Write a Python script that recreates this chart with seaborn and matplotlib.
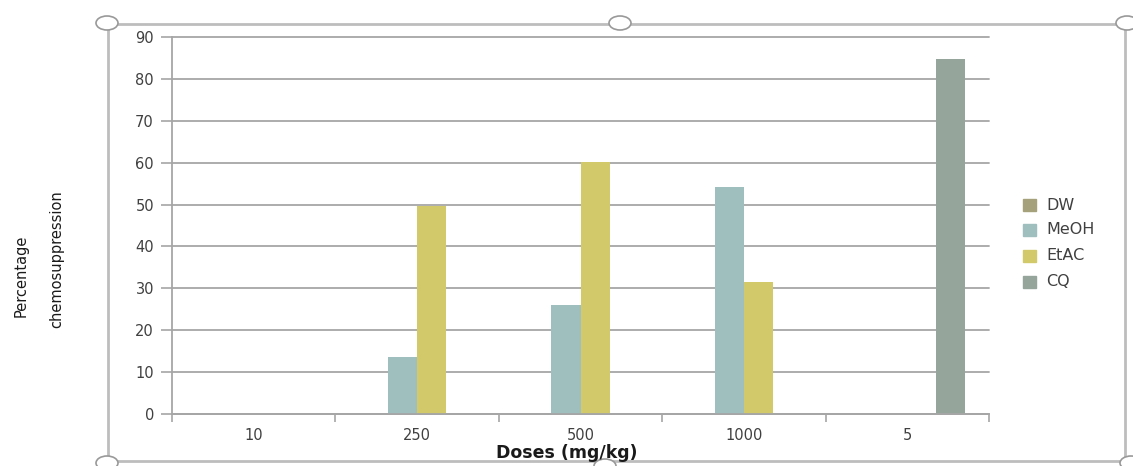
import matplotlib
matplotlib.use("Agg")
import matplotlib.pyplot as plt
from matplotlib.patches import Rectangle, Ellipse
import seaborn as sns
import pandas as pd

# Chemosuppression (%) by dose and extract
doses = ["10", "250", "500", "1000", "5"]
series = ["DW", "MeOH", "EtAC", "CQ"]
dw_vals = [0, 0, 0, 0, 0]
meoh_vals = [0, 13.5, 26.0, 54.3, 0]
etac_vals = [0, 49.6, 60.2, 31.6, 0]
cq_vals = [0, 0, 0, 0, 84.8]
colors = ["#a5a27b", "#9fbfbf", "#d2c96b", "#95a59c"]

rows = []
for name, vals in zip(series, [dw_vals, meoh_vals, etac_vals, cq_vals]):
    for d, v in zip(doses, vals):
        rows.append({"Dose": d, "Group": name, "Value": v})
df = pd.DataFrame(rows)

sns.set_theme(style="white")
plt.rcParams["font.family"] = ["DejaVu Sans"]

W, H = 1133, 466
fig = plt.figure(figsize=(W / 100, H / 100), dpi=100)
ax = fig.add_axes([172 / W, 1 - 414 / H, (989 - 172) / W, (414 - 37) / H])

sns.barplot(data=df, x="Dose", y="Value", hue="Group", order=doses,
            hue_order=series, palette=colors, saturation=1, width=0.71,
            linewidth=0, legend=False, ax=ax)

grid_c = "#a6a6a6"
ax.set_ylim(0, 90)
ax.set_xlim(-0.5, len(doses) - 0.5)
ax.set_yticks(range(0, 91, 10))
ax.yaxis.grid(True, color=grid_c, linewidth=1.3)
for gl in ax.get_ygridlines():
    gl.set_clip_on(False)
ax.set_axisbelow(True)
for s in ["top", "right"]:
    ax.spines[s].set_visible(False)
for s in ["left", "bottom"]:
    ax.spines[s].set_color(grid_c)
    ax.spines[s].set_linewidth(1.3)

ax.set_xticks(range(len(doses)))
ax.set_xticklabels(doses)
ax.set_xticks([i - 0.5 for i in range(len(doses) + 1)], minor=True)
ax.tick_params(axis="x", which="major", length=0, pad=10, labelsize=10.5,
               labelcolor="#404040")
ax.tick_params(axis="x", which="minor", length=6, width=1.2, color=grid_c,
               direction="out", bottom=True)
ax.tick_params(axis="y", length=8, width=1.2, color=grid_c, direction="out",
               left=True, pad=5, labelsize=10.5, labelcolor="#404040")
ax.set_xlabel("")
ax.set_ylabel("")

fig.text(567 / W, 1 - 453 / H, "Doses (mg/kg)", ha="center", va="center",
         fontsize=12.5, color="#1a1a1a", fontweight="semibold")
fig.text(21 / W, 1 - 276 / H, "Percentage", rotation=90, ha="center",
         va="center", fontsize=10.5, color="#1a1a1a")
fig.text(57 / W, 1 - 259 / H, "chemosuppression", rotation=90, ha="center",
         va="center", fontsize=10.5, color="#1a1a1a")

# legend
leg_y = [205, 230, 256, 282]
for name, c, y in zip(series, colors, leg_y):
    fig.patches.append(Rectangle((1023 / W, 1 - (y + 6) / H), 13 / W, 12 / H,
                                 transform=fig.transFigure, color=c))
    fig.text(1046 / W, 1 - y / H, name, ha="left", va="center",
             fontsize=11.5, color="#404040")

# chart frame with selection handles
frame_c = "#bdbdbd"
fig.patches.append(Rectangle((108 / W, 1 - 461 / H), (1125 - 108) / W,
                             (461 - 24) / H, transform=fig.transFigure,
                             fill=False, edgecolor=frame_c, linewidth=2))
for hx, hy in [(107, 23), (620, 23), (1127, 23), (107, 463), (605, 466), (1131, 463)]:
    fig.patches.append(Ellipse((hx / W, 1 - hy / H), 22 / W, 14 / H,
                               transform=fig.transFigure, facecolor="white",
                               edgecolor="#999999", linewidth=1.2))

fig.savefig("out.png", dpi=100)
